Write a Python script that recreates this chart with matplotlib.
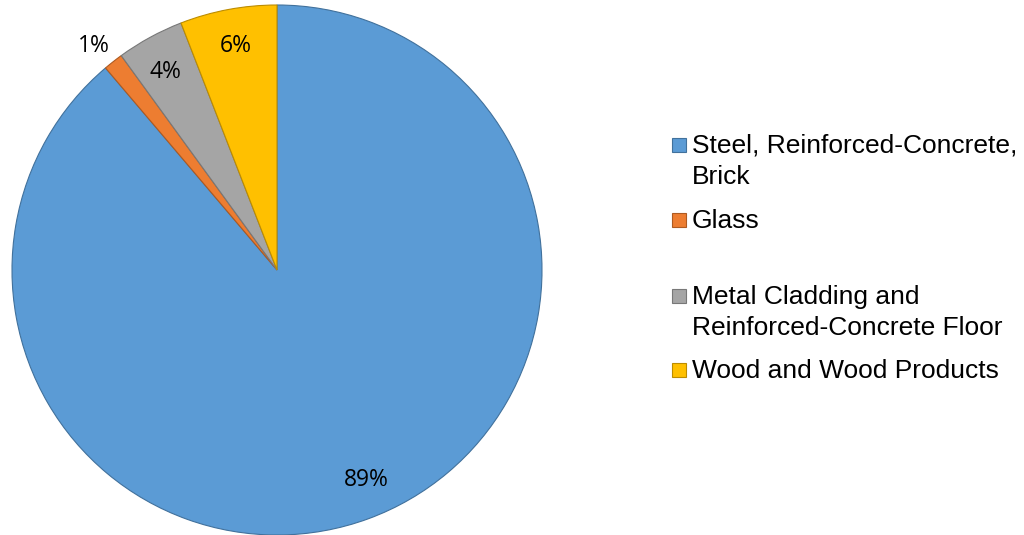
import matplotlib
matplotlib.use("Agg")
import matplotlib.pyplot as plt
from matplotlib.patches import Rectangle
import numpy as np

categories = ["Steel, Reinforced-Concrete,\nBrick", "Glass",
              "Metal Cladding and\nReinforced-Concrete Floor", "Wood and Wood Products"]
values = [88.8, 1.2, 4.1, 5.9]
colors = ["#5B9BD5", "#ED7D31", "#A5A5A5", "#FFC000"]
edges = ["#41719C", "#AE5A21", "#787878", "#BC8C00"]

W, H = 1024, 535
fig = plt.figure(figsize=(W / 100, H / 100), dpi=100)
fig.patch.set_facecolor("white")

cx, cy, R = 277, 270, 265
ax = fig.add_axes([(cx - R) / W, (H - cy - R) / H, 2 * R / W, 2 * R / H])
wedges, texts, autotexts = ax.pie(
    values, colors=colors, startangle=90, counterclock=False,
    autopct="%.0f%%", pctdistance=0.86, radius=1.0,
    wedgeprops=dict(linewidth=0.8),
    textprops=dict(fontsize=16.5, family="Open Sans", color="#000000"))
for w, ec in zip(wedges, edges):
    w.set_edgecolor(ec)
# outside label for the small slice
w = wedges[1]
ang = np.deg2rad((w.theta1 + w.theta2) / 2)
autotexts[1].set_position((1.1 * np.cos(ang), 1.1 * np.sin(ang)))
# fine label nudges (pixels: right, down)
nudges = [(11, -4), (-3, 5), (-2.5, 2), (1, 0)]
for t, (dx, dy) in zip(autotexts, nudges):
    x, y = t.get_position()
    t.set_position((x + dx / R, y - dy / R))
    t.set_clip_on(False)
ax.set_xlim(-1, 1)
ax.set_ylim(-1, 1)
ax.set_aspect("equal")
ax.axis("off")

# legend (manual to match irregular spacing)
baselines = [153, 228, 304, 378]
line_h = 31
for lab, col, ec, yb in zip(categories, colors, edges, baselines):
    fig.patches.append(Rectangle(((671.5) / W, (H - yb + 1) / H), 14 / W, 14 / H,
                                 transform=fig.transFigure, facecolor=col,
                                 edgecolor=ec, linewidth=0.8))
    for i, line in enumerate(lab.split("\n")):
        fig.text(692 / W, (H - (yb + i * line_h)) / H, line, fontsize=19,
                 family="Liberation Sans", va="baseline", ha="left", color="#000000")

fig.savefig("out.png", dpi=100, facecolor="white")
